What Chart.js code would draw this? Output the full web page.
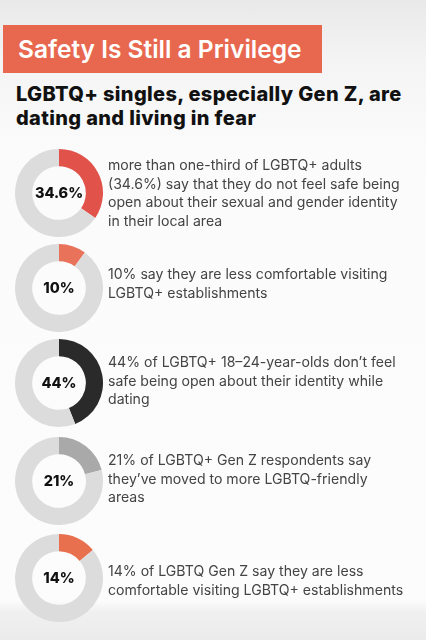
<!DOCTYPE html>
<html>
<head>
<meta charset="utf-8">
<script src="https://cdn.jsdelivr.net/npm/chart.js@4.4.1/dist/chart.umd.min.js"></script>
<style>
  html, body { margin: 0; padding: 0; }
  body {
    width: 426px; height: 640px; position: relative; overflow: hidden;
    background: linear-gradient(to bottom, #e9e9e9 0px, #f4f4f4 60px, #fbfbfb 150px, #fcfcfc 600px, #f0f0f0 612px, #ebebeb 640px);
    font-family: Inter, sans-serif;
  }
  #banner {
    position: absolute; left: 3px; top: 25px; width: 319px; height: 48px;
    background: #e8684f; color: #fff;
    font-family: Inter, sans-serif; font-weight: 600; font-size: 24.5px;
    line-height: 48px; padding-left: 15px; box-sizing: border-box; white-space: nowrap;
  }
  #subtitle {
    position: absolute; left: 16px; top: 82px; width: 420px; white-space: nowrap;
    font-family: Inter, sans-serif; font-weight: 800; font-size: 20px; letter-spacing: 0.35px;
    line-height: 24px; color: #111;
  }
  .donut { position: absolute; left: 15px; width: 88px; height: 88px; }
  .center {
    position: absolute; left: 15px; width: 88px; text-align: center;
    font-family: Inter, sans-serif; font-weight: 800; font-size: 14.5px; color: #111;
  }
  .desc {
    position: absolute; left: 108px; width: 318px; white-space: nowrap;
    font-family: Inter, sans-serif; font-weight: 400; font-size: 14.1px; line-height: 18.5px; color: #444;
    transform: translateY(-50%);
  }
</style>
</head>
<body>
<div id="banner"></div>
<div id="subtitle"></div>
<div id="rows"></div>
<script>
const titleText = "Safety Is Still a Privilege";
const subtitleText = "LGBTQ+ singles, especially Gen Z, are<br>dating and living in fear";
const centerLabels = ["34.6%", "10%", "44%", "21%", "14%"];
const values = [34.6, 10, 44, 21, 14];
const sliceColors = ["#e0524a", "#e8735a", "#2a2a2a", "#a9a9a9", "#e8704f"];
const restColor = "#dcdcdc";
const descriptions = [
  "more than one-third of LGBTQ+ adults<br>(34.6%) say that they do not feel safe being<br>open about their sexual and gender identity<br>in their local area",
  "10% say they are less comfortable visiting<br>LGBTQ+ establishments",
  "44% of LGBTQ+ 18–24-year-olds don’t feel<br>safe being open about their identity while<br>dating",
  "21% of LGBTQ+ Gen Z respondents say<br>they’ve moved to more LGBTQ-friendly<br>areas",
  "14% of LGBTQ Gen Z say they are less<br>comfortable visiting LGBTQ+ establishments"
];

const centersY = [193, 288, 383, 481, 578];
const textMidY = [193, 283, 381, 479, 580];

document.getElementById('banner').textContent = titleText;
document.getElementById('subtitle').innerHTML = subtitleText;

const rows = document.getElementById('rows');
values.forEach((v, i) => {
  const cy = centersY[i];
  const c = document.createElement('canvas');
  c.className = 'donut';
  c.style.top = (cy - 44) + 'px';
  rows.appendChild(c);
  const lab = document.createElement('div');
  lab.className = 'center';
  lab.style.top = (cy - 9) + 'px';
  lab.textContent = centerLabels[i];
  rows.appendChild(lab);
  const d = document.createElement('div');
  d.className = 'desc';
  d.style.top = textMidY[i] + 'px';
  d.innerHTML = descriptions[i];
  rows.appendChild(d);

  new Chart(c, {
    type: 'doughnut',
    data: {
      labels: ['share', 'rest'],
      datasets: [{
        data: [v, 100 - v],
        backgroundColor: [sliceColors[i], restColor],
        borderWidth: 0
      }]
    },
    options: {
      responsive: false,
      animation: false,
      cutout: '61%',
      plugins: { legend: { display: false }, tooltip: { enabled: false } },
      layout: { padding: 0 }
    }
  });
});
</script>
</body>
</html>
